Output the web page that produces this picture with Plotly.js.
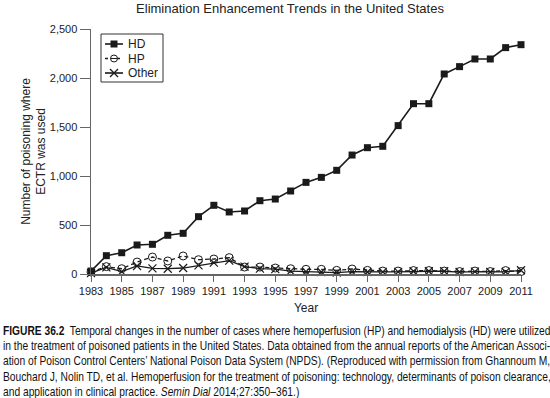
<!DOCTYPE html>
<html>
<head>
<meta charset="utf-8">
<script src="https://cdn.plot.ly/plotly-3.0.1.min.js"></script>
<style>html,body{margin:0;padding:0;background:#fff}#chart{width:550px;height:398px}</style>
</head>
<body>
<div id="chart"></div>
<script>
const years = [1983,1984,1985,1986,1987,1988,1989,1990,1991,1992,1993,1994,1995,1996,1997,1998,1999,2000,2001,2002,2003,2004,2005,2006,2007,2008,2009,2010,2011];
const hdValues = [30,187,217,296,303,395,415,585,701,633,643,748,765,847,935,986,1058,1214,1289,1303,1514,1738,1738,2041,2116,2194,2194,2310,2340];
const hpValues = [20,75,54,122,173,133,184,146,153,167,71,71,61,54,48,48,37,51,37,30,30,35,35,30,25,30,25,35,25];
const otherValues = [10,68,24,82,58,54,61,88,116,136,75,55,50,30,25,20,15,25,20,22,22,28,28,28,20,25,20,22,38];
const seriesNames = ['HD', 'HP', 'Other'];
const xTickVals = [1983,1985,1987,1989,1991,1993,1995,1997,1999,2001,2003,2005,2007,2009,2011];
const yTickVals = [0,500,1000,1500,2000,2500];
const captionLines = [
  "<b>FIGURE 36.2</b>  Temporal changes in the number of cases where hemoperfusion (HP) and hemodialysis (HD) were utilized",
  "in the treatment of poisoned patients in the United States. Data obtained from the annual reports of the American Associ-",
  "ation of Poison Control Centers\u2019 National Poison Data System (NPDS). (Reproduced with permission from Ghannoum M,",
  "Bouchard J, Nolin TD, et al. Hemoperfusion for the treatment of poisoning: technology, determinants of poison clearance,",
  "and application in clinical practice. <i>Semin Dial</i> 2014;27:350\u2013361.)"
];
const captionFull = 548; // justified line width in the print

const L = 91, R = 521, T = 29, B = 274;
const px2x = p => (p - L) / (R - L);
const py2y = p => (B - p) / (B - T);
const INK = '#1a1a1a';

const traces = [
  {x: years, y: hdValues, name: seriesNames[0], mode: 'lines+markers', cliponaxis: false,
   line: {color: INK, width: 1.6}, marker: {symbol: 'square', size: 7, color: INK}},
  {x: years, y: hpValues, name: seriesNames[1], mode: 'lines+markers', cliponaxis: false,
   line: {color: INK, width: 1.3, dash: '4px,3px'}, marker: {symbol: 'circle-open', size: 8, color: INK, line: {width: 1}}},
  {x: years, y: otherValues, name: seriesNames[2], mode: 'lines+markers', cliponaxis: false,
   line: {color: INK, width: 1.3}, marker: {symbol: 'x-thin-open', size: 8, color: INK, line: {width: 1.2}}}
];

const annotations = captionLines.map((t, i) => ({
  text: t, xref: 'paper', yref: 'paper', x: px2x(1), y: py2y(331 + i * 15.2),
  xanchor: 'left', yanchor: 'middle', align: 'left', showarrow: false,
  font: {family: 'Liberation Sans, Arial, sans-serif', size: 12, color: '#111'}
}));

const legBox = {x0: 101, x1: 163, y0: 34, y1: 82};
const rowY = [44, 58.5, 73];
const symX0 = 105, symX1 = 123, symC = 114, textX = 126;
const shapes = [
  {type: 'rect', xref: 'paper', yref: 'paper', x0: px2x(legBox.x0), x1: px2x(legBox.x1), y0: py2y(legBox.y0), y1: py2y(legBox.y1),
   line: {color: '#333', width: 1}, fillcolor: '#fff', layer: 'above'}
];
rowY.forEach((y, i) => {
  shapes.push({type: 'line', xref: 'paper', yref: 'paper', x0: px2x(symX0), x1: px2x(symX1), y0: py2y(y), y1: py2y(y),
    line: {color: INK, width: i === 1 ? 1.3 : 1.6, dash: i === 1 ? 'dot' : 'solid'}, layer: 'above'});
  annotations.push({text: seriesNames[i], xref: 'paper', yref: 'paper', x: px2x(textX), y: py2y(y),
    xanchor: 'left', yanchor: 'middle', showarrow: false, font: {size: 12, color: '#222'}});
});
shapes.push({type: 'rect', xref: 'paper', yref: 'paper', x0: px2x(symC - 3.5), x1: px2x(symC + 3.5), y0: py2y(rowY[0] - 3.5), y1: py2y(rowY[0] + 3.5),
  line: {width: 0}, fillcolor: INK, layer: 'above'});
shapes.push({type: 'circle', xref: 'paper', yref: 'paper', x0: px2x(symC - 3.5), x1: px2x(symC + 3.5), y0: py2y(rowY[1] - 3.5), y1: py2y(rowY[1] + 3.5),
  line: {color: INK, width: 1}, fillcolor: '#fff', layer: 'above'});
shapes.push({type: 'line', xref: 'paper', yref: 'paper', x0: px2x(symC - 3.5), x1: px2x(symC + 3.5), y0: py2y(rowY[1]), y1: py2y(rowY[1]),
  line: {color: INK, width: 1}, layer: 'above'});
shapes.push({type: 'line', xref: 'paper', yref: 'paper', x0: px2x(symC - 4), x1: px2x(symC + 4), y0: py2y(rowY[2] - 4), y1: py2y(rowY[2] + 4),
  line: {color: INK, width: 1.2}, layer: 'above'});
shapes.push({type: 'line', xref: 'paper', yref: 'paper', x0: px2x(symC - 4), x1: px2x(symC + 4), y0: py2y(rowY[2] + 4), y1: py2y(rowY[2] - 4),
  line: {color: INK, width: 1.2}, layer: 'above'});

const layout = {
  width: 550, height: 398,
  margin: {l: L, r: 550 - R, t: T, b: 398 - B},
  paper_bgcolor: '#fff', plot_bgcolor: '#fff',
  font: {family: 'Liberation Sans, Arial, sans-serif', size: 11, color: '#222'},
  title: {text: 'Elimination Enhancement Trends in the United States', x: 290/550, xanchor: 'center', y: 1 - 8/398, yanchor: 'middle',
          font: {size: 13, color: '#222'}},
  showlegend: false,
  xaxis: {range: [1983, 2011], tickvals: xTickVals, ticktext: xTickVals.map(String), showgrid: false, zeroline: false,
          showline: true, linecolor: '#666', linewidth: 1.5, ticks: 'outside', ticklen: 6, tickcolor: '#666',
          tickfont: {size: 11}, title: {text: 'Year', font: {size: 12}, standoff: 8}},
  yaxis: {range: [0, 2500], tickvals: yTickVals, tickformat: ',', showgrid: false, zeroline: false,
          showline: true, linecolor: '#666', linewidth: 1.5, ticks: 'outside', ticklen: 10, tickcolor: '#666',
          tickfont: {size: 11}, title: {text: 'Number of poisoning where<br>ECTR was used', font: {size: 12}, standoff: 1}},
  shapes: shapes,
  annotations: annotations
};

Plotly.newPlot('chart', traces, layout, {displayModeBar: false, staticPlot: true}).then(gd => {
  // condense caption lines horizontally to the justified width of the printed figure
  const groups = [];
  gd.querySelectorAll('g.annotation').forEach(g => {
    const idx = +g.getAttribute('data-index');
    if (idx < captionLines.length) groups[idx] = g;
  });
  const nat = groups.map(g => g.querySelector('text.annotation-text').getComputedTextLength());
  const ratio = captionFull / nat[captionLines.length - 2];
  groups.forEach((g, i) => {
    const t = g.querySelector('text.annotation-text');
    const r = i < captionLines.length - 1 ? captionFull / nat[i] : ratio;
    const bb = t.getBBox();
    const x0 = bb.x;
    t.setAttribute('transform', 'translate(' + x0 + ',0) scale(' + r + ',1) translate(' + (-x0) + ',0)');
    const bg = g.querySelector('rect.bg');
    if (bg) bg.setAttribute('transform', 'translate(' + x0 + ',0) scale(' + r + ',1) translate(' + (-x0) + ',0)');
  });
});
</script>
</body>
</html>
